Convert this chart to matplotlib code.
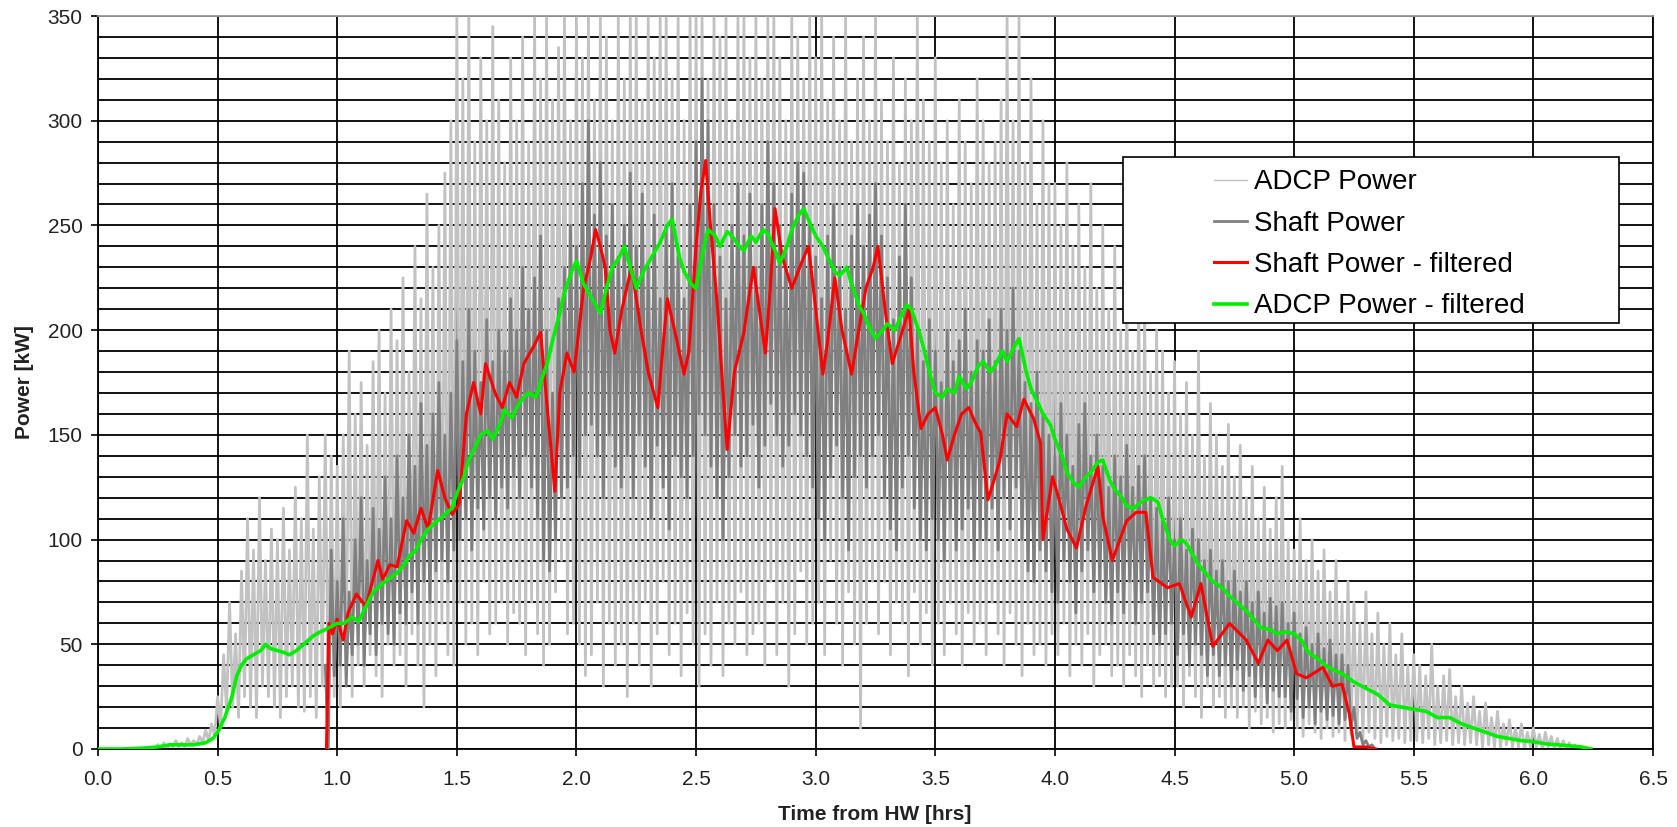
import numpy as np
import matplotlib
matplotlib.use('Agg')
import matplotlib.pyplot as plt
from matplotlib.patches import Rectangle
from matplotlib.ticker import MultipleLocator, FormatStrFormatter

plt.rcParams['font.family'] = ['Liberation Sans', 'DejaVu Sans']

# Raw (unfiltered) series, read off the chart as alternating peak / trough
# samples: peak at t0 + i*step, trough half a step later.
raw_step = 0.025

adcp_t0 = 0.25
adcp_peaks = [
    2, 3, 2, 4, 3, 5, 4, 6, 9, 12,
    25, 45, 70, 55, 85, 110, 95, 120, 90, 105,
    100, 115, 95, 125, 110, 150, 105, 130, 150, 140,
    135, 150, 190, 160, 175, 145, 185, 200, 170, 210,
    195, 225, 180, 240, 215, 265, 230, 250, 275, 300,
    350, 320, 350, 290, 330, 300, 345, 310, 280, 330,
    300, 340, 290, 350, 320, 350, 310, 335, 350, 300,
    350, 330, 350, 310, 350, 340, 300, 350, 320, 350,
    350, 310, 350, 330, 350, 350, 320, 350, 300, 350,
    350, 350, 320, 350, 340, 350, 300, 350, 350, 330,
    350, 320, 350, 350, 330, 300, 350, 340, 320, 350,
    330, 350, 310, 340, 300, 350, 290, 320, 340, 300,
    350, 310, 290, 330, 280, 320, 300, 350, 310, 290,
    330, 280, 300, 260, 310, 290, 270, 320, 300, 280,
    290, 310, 350, 300, 350, 280, 320, 260, 300, 270,
    270, 250, 280, 240, 260, 230, 270, 220, 250, 210,
    240, 200, 230, 190, 220, 210, 180, 200, 190, 170,
    185, 160, 175, 150, 190, 140, 165, 150, 135, 155,
    130, 145, 120, 135, 110, 125, 105, 120, 135, 100,
    95, 110, 90, 100, 85, 95, 75, 90, 70, 80,
    70, 60, 75, 55, 65, 50, 60, 45, 55, 40,
    45, 40, 35, 50, 30, 35, 38, 25, 30, 22,
    25, 18, 22, 15, 18, 12, 14, 10, 12, 8,
    10, 7, 8, 6, 5, 4, 3, 2, 1, 0,
]
adcp_troughs = [
    0, 0, 1, 1, 1, 2, 2, 3, 4, 6,
    10, 18, 20, 15, 25, 20, 15, 30, 25, 20,
    15, 25, 30, 20, 18, 25, 15, 30, 20, 25,
    20, 35, 25, 40, 30, 45, 35, 25, 50, 40,
    45, 30, 55, 40, 20, 50, 35, 60, 45, 40,
    70, 50, 60, 45, 80, 55, 60, 70, 50, 65,
    60, 45, 70, 55, 40, 50, 75, 90, 55, 60,
    50, 35, 45, 70, 30, 60, 40, 50, 25, 60,
    40, 70, 30, 55, 80, 45, 60, 35, 65, 50,
    30, 55, 40, 70, 35, 60, 50, 75, 45, 55,
    60, 40, 80, 45, 70, 30, 55, 85, 50, 60,
    70, 45, 90, 60, 40, 75, 50, 10, 60, 80,
    55, 80, 45, 70, 60, 35, 75, 50, 65, 40,
    60, 45, 70, 55, 40, 65, 50, 60, 45, 70,
    55, 40, 65, 50, 35, 60, 45, 50, 40, 55,
    45, 60, 35, 50, 40, 55, 30, 45, 50, 35,
    40, 30, 45, 35, 25, 40, 30, 35, 25, 30,
    30, 20, 35, 25, 15, 30, 20, 25, 15, 20,
    15, 20, 10, 18, 12, 15, 8, 12, 10, 14,
    10, 6, 12, 8, 5, 10, 6, 8, 4, 7,
    6, 4, 8, 5, 3, 6, 4, 5, 3, 4,
    4, 3, 5, 2, 3, 4, 2, 3, 2, 3,
    2, 1, 2, 1, 1, 2, 1, 1, 0, 1,
    1, 0, 1, 0, 0, 0, 0, 0, 0, 0,
]

shaft_t0 = 0.95
shaft_peaks = [
    40, 95, 80, 110, 75, 100, 120, 90, 115, 105,
    130, 110, 140, 120, 150, 135, 165, 145, 160, 175,
    150, 170, 195, 185, 210, 190, 175, 205, 185, 200,
    190, 215, 200, 230, 210, 225, 245, 200, 170, 215,
    230, 250, 240, 270, 300, 255, 280, 245, 260, 235,
    250, 275, 240, 265, 230, 255, 215, 250, 270, 235,
    215, 260, 290, 320, 300, 260, 235, 215, 250, 270,
    245, 265, 230, 260, 290, 270, 250, 240, 265, 280,
    275, 250, 235, 215, 245, 260, 230, 210, 245, 260,
    240, 255, 270, 245, 225, 205, 235, 260, 225, 200,
    185, 205, 190, 175, 200, 185, 195, 210, 180, 195,
    190, 205, 185, 210, 200, 220, 190, 175, 165, 180,
    160, 150, 140, 165, 150, 135, 155, 165, 140, 150,
    135, 125, 140, 130, 145, 125, 135, 140, 120, 115,
    110, 120, 100, 110, 95, 105, 100, 90, 95, 85,
    90, 80, 85, 75, 80, 70, 75, 65, 72, 68,
    70, 60, 65, 55, 58, 50, 55, 48, 52, 45,
    45, 40, 20, 8, 4, 2,
]
shaft_troughs = [
    0, 35, 40, 30, 45, 50, 40, 55, 45, 60,
    55, 50, 65, 60, 75, 60, 80, 70, 85, 90,
    80, 95, 100, 110, 95, 115, 105, 120, 110, 125,
    115, 130, 120, 140, 125, 110, 90, 85, 100, 120,
    125, 140, 130, 150, 155, 140, 120, 150, 135, 125,
    140, 120, 150, 135, 110, 145, 125, 105, 140, 130,
    120, 140, 160, 150, 135, 120, 100, 130, 150, 135,
    140, 155, 125, 145, 165, 150, 135, 145, 160, 150,
    140, 125, 110, 100, 130, 145, 120, 95, 130, 140,
    125, 140, 150, 120, 105, 95, 125, 140, 115, 100,
    95, 110, 100, 90, 110, 95, 105, 115, 90, 100,
    100, 115, 95, 120, 105, 125, 100, 85, 80, 95,
    85, 75, 70, 90, 80, 65, 85, 95, 75, 80,
    70, 60, 75, 65, 80, 60, 70, 75, 55, 50,
    55, 60, 45, 55, 40, 50, 45, 35, 45, 35,
    40, 30, 38, 28, 35, 25, 30, 22, 28, 25,
    25, 18, 24, 15, 20, 12, 18, 14, 16, 12,
    14, 10, 5, 2, 1, 0,
]

# Filtered series as (time [hrs], power [kW]) pairs
shaft_filtered = [
    (0.955, 0), (0.965, 60), (0.98, 55), (1.0, 62), (1.025, 52), (1.045, 65),
    (1.08, 74), (1.12, 68), (1.17, 90), (1.19, 81), (1.22, 88), (1.25, 87),
    (1.29, 109), (1.32, 103), (1.35, 115), (1.38, 105), (1.42, 133), (1.45, 120),
    (1.48, 112), (1.51, 117), (1.54, 160), (1.57, 175), (1.60, 160), (1.62, 184),
    (1.66, 170), (1.69, 163), (1.72, 175), (1.75, 168), (1.78, 184), (1.82, 192),
    (1.85, 199), (1.88, 160), (1.91, 123), (1.93, 170), (1.96, 189), (1.99, 180),
    (2.03, 220), (2.06, 235), (2.08, 248), (2.10, 240), (2.12, 230), (2.14, 200),
    (2.16, 189), (2.19, 210), (2.23, 230), (2.25, 215), (2.27, 200), (2.30, 180),
    (2.34, 163), (2.36, 190), (2.38, 215), (2.41, 200), (2.45, 179), (2.47, 190),
    (2.50, 240), (2.52, 266), (2.54, 281), (2.56, 250), (2.59, 210), (2.61, 175),
    (2.63, 143), (2.66, 180), (2.70, 199), (2.72, 215), (2.74, 230), (2.77, 205),
    (2.79, 189), (2.81, 220), (2.83, 258), (2.86, 235), (2.90, 220), (2.94, 232),
    (2.97, 240), (3.00, 210), (3.03, 179), (3.05, 195), (3.08, 225), (3.11, 200),
    (3.15, 179), (3.18, 200), (3.21, 220), (3.24, 230), (3.26, 240), (3.29, 210),
    (3.32, 184), (3.35, 195), (3.39, 210), (3.41, 180), (3.44, 153), (3.47, 160),
    (3.50, 163), (3.53, 150), (3.55, 138), (3.58, 150), (3.61, 160), (3.64, 163),
    (3.67, 155), (3.69, 151), (3.72, 119), (3.75, 130), (3.77, 138), (3.80, 160),
    (3.84, 154), (3.87, 167), (3.91, 158), (3.94, 146), (3.95, 100), (3.99, 130),
    (4.02, 118), (4.05, 105), (4.09, 96), (4.13, 116), (4.18, 135), (4.20, 111),
    (4.24, 90), (4.30, 109), (4.34, 113), (4.38, 113), (4.41, 82), (4.47, 77),
    (4.52, 79), (4.57, 63), (4.61, 79), (4.66, 49), (4.73, 60), (4.80, 52),
    (4.85, 41), (4.89, 52), (4.93, 47), (4.97, 52), (5.01, 36), (5.05, 34),
    (5.08, 36), (5.12, 39), (5.16, 30), (5.20, 31), (5.23, 17), (5.25, 1),
    (5.30, 1), (5.34, 0),
]
adcp_filtered = [
    (0.0, 0), (0.1, 0), (0.2, 0.5), (0.25, 1), (0.3, 2), (0.35, 2), (0.4, 2),
    (0.45, 3), (0.48, 5), (0.5, 8), (0.53, 15), (0.56, 25), (0.58, 35), (0.6, 40),
    (0.62, 43), (0.65, 45), (0.68, 47), (0.7, 50), (0.72, 48), (0.75, 47),
    (0.78, 46), (0.8, 45), (0.83, 47), (0.86, 50), (0.9, 54), (0.93, 56),
    (0.95, 57), (1.0, 60), (1.03, 60), (1.06, 63), (1.09, 61), (1.12, 68),
    (1.15, 75), (1.18, 78), (1.2, 80), (1.25, 84), (1.28, 88), (1.3, 92),
    (1.33, 95), (1.35, 100), (1.38, 105), (1.4, 107), (1.43, 110), (1.45, 112),
    (1.48, 115), (1.5, 122), (1.53, 130), (1.55, 138), (1.58, 145), (1.6, 150),
    (1.63, 152), (1.65, 148), (1.68, 155), (1.7, 162), (1.73, 158), (1.75, 163),
    (1.78, 168), (1.8, 170), (1.83, 168), (1.85, 175), (1.88, 185), (1.9, 195),
    (1.93, 208), (1.95, 218), (1.98, 228), (2.0, 233), (2.03, 222), (2.05, 218),
    (2.08, 212), (2.1, 208), (2.13, 222), (2.15, 230), (2.18, 235), (2.2, 240),
    (2.23, 228), (2.25, 220), (2.28, 228), (2.3, 232), (2.33, 238), (2.35, 242),
    (2.38, 250), (2.4, 253), (2.43, 235), (2.45, 228), (2.48, 222), (2.5, 220),
    (2.53, 238), (2.55, 248), (2.58, 245), (2.6, 240), (2.63, 247), (2.65, 245),
    (2.68, 240), (2.7, 238), (2.73, 245), (2.75, 242), (2.78, 248), (2.8, 246),
    (2.83, 238), (2.85, 232), (2.88, 240), (2.9, 248), (2.93, 255), (2.95, 258),
    (2.98, 250), (3.0, 245), (3.03, 240), (3.05, 235), (3.08, 228), (3.1, 226),
    (3.13, 230), (3.15, 222), (3.18, 212), (3.2, 208), (3.23, 200), (3.25, 196),
    (3.28, 200), (3.3, 203), (3.33, 200), (3.35, 205), (3.38, 212), (3.4, 210),
    (3.43, 200), (3.45, 192), (3.48, 178), (3.5, 170), (3.53, 168), (3.55, 172),
    (3.58, 170), (3.6, 178), (3.63, 172), (3.65, 175), (3.68, 183), (3.7, 185),
    (3.73, 180), (3.75, 183), (3.78, 190), (3.8, 185), (3.83, 192), (3.85, 196),
    (3.88, 180), (3.9, 172), (3.93, 165), (3.95, 160), (3.98, 155), (4.0, 148),
    (4.03, 140), (4.05, 132), (4.08, 127), (4.1, 125), (4.13, 130), (4.15, 132),
    (4.18, 137), (4.2, 138), (4.23, 128), (4.25, 124), (4.28, 120), (4.3, 116),
    (4.33, 115), (4.36, 118), (4.4, 120), (4.43, 118), (4.45, 110), (4.48, 100),
    (4.5, 97), (4.53, 100), (4.55, 98), (4.58, 92), (4.6, 88), (4.63, 84),
    (4.66, 80), (4.7, 77), (4.73, 73), (4.76, 70), (4.8, 66), (4.83, 62),
    (4.86, 58), (4.9, 57), (4.93, 55), (4.96, 56), (5.0, 55), (5.03, 52),
    (5.06, 46), (5.1, 43), (5.13, 40), (5.16, 38), (5.2, 36), (5.25, 32),
    (5.3, 29), (5.35, 26), (5.4, 21), (5.45, 20), (5.5, 19), (5.55, 18),
    (5.6, 15), (5.65, 15), (5.7, 12), (5.75, 10), (5.8, 8), (5.85, 6),
    (5.9, 5), (5.95, 4), (6.0, 3.5), (6.05, 2.5), (6.1, 2), (6.15, 1.5),
    (6.2, 1), (6.24, 0),
]


def zigzag(t0, step, peaks, troughs):
    """Interleave peak and trough samples into one raw trace."""
    n = len(peaks)
    t = t0 + step * np.arange(n)
    tt = np.empty(2 * n)
    yy = np.empty(2 * n)
    tt[0::2] = t
    tt[1::2] = t + step / 2
    yy[0::2] = peaks
    yy[1::2] = troughs
    return tt, yy


adcp_t, adcp_kw = zigzag(adcp_t0, raw_step, adcp_peaks, adcp_troughs)
shaft_t, shaft_kw = zigzag(shaft_t0, raw_step, shaft_peaks, shaft_troughs)
sf_t, sf_kw = np.array(shaft_filtered).T
af_t, af_kw = np.array(adcp_filtered).T

fig = plt.figure(figsize=(16.77, 8.27), dpi=100)
ax = fig.add_axes([98 / 1677, 1 - 749 / 827, 1555 / 1677, 733 / 827])

ax.plot(adcp_t, adcp_kw, color='#c2c2c2', linewidth=2.0, label='ADCP Power', zorder=2)
ax.plot(shaft_t, shaft_kw, color='#808080', linewidth=2.0, label='Shaft Power', zorder=3)
ax.plot(sf_t, sf_kw, color='#ff0000', linewidth=2.2, label='Shaft Power - filtered', zorder=4)
ax.plot(af_t, af_kw, color='#00ee00', linewidth=2.6, label='ADCP Power - filtered', zorder=5)

ax.set_xlim(0, 6.5)
ax.set_ylim(0, 350)
ax.xaxis.set_major_locator(MultipleLocator(0.5))
ax.yaxis.set_major_locator(MultipleLocator(50))
ax.yaxis.set_minor_locator(MultipleLocator(10))
ax.xaxis.set_major_formatter(FormatStrFormatter('%.1f'))
ax.set_axisbelow(True)
ax.grid(True, which='both', axis='y', color='black', linewidth=1.3)
ax.grid(True, which='major', axis='x', color='black', linewidth=1.3)
ax.tick_params(axis='both', which='major', direction='out', length=5, width=1.2,
               labelsize=15, colors='black', labelcolor='#222222')
ax.tick_params(axis='y', which='minor', length=0)
ax.tick_params(axis='x', pad=10)
ax.tick_params(axis='y', pad=6)
for side in ('left', 'bottom', 'right'):
    ax.spines[side].set_color('black')
    ax.spines[side].set_linewidth(1.3)
ax.spines['top'].set_color('#999999')
ax.spines['top'].set_linewidth(1.3)

fig.text(875 / 1677, 1 - 815 / 827, 'Time from HW [hrs]', ha='center', va='center',
         fontsize=15, fontweight='bold', color='#222222')
fig.text(24 / 1677, 1 - 382 / 827, 'Power [kW]', ha='center', va='center',
         rotation=90, fontsize=15, fontweight='bold', color='#222222')

# legend: wide white box, entries pushed to its right-hand side
ax.add_patch(Rectangle((0.659, 0.5812), 0.319, 0.2264, transform=ax.transAxes,
                       facecolor='white', edgecolor='black', linewidth=1.2, zorder=10))
leg = ax.legend(loc='center left', bbox_to_anchor=(0.7175, 0.6885), frameon=False,
                fontsize=20, handlelength=1.2, handletextpad=0.25, labelspacing=0.55,
                borderpad=0, borderaxespad=0)
leg.set_zorder(11)
for line, lw in zip(leg.get_lines(), [1.0, 2.0, 2.2, 2.6]):
    line.set_linewidth(lw)

fig.savefig('out.png', dpi=100)
